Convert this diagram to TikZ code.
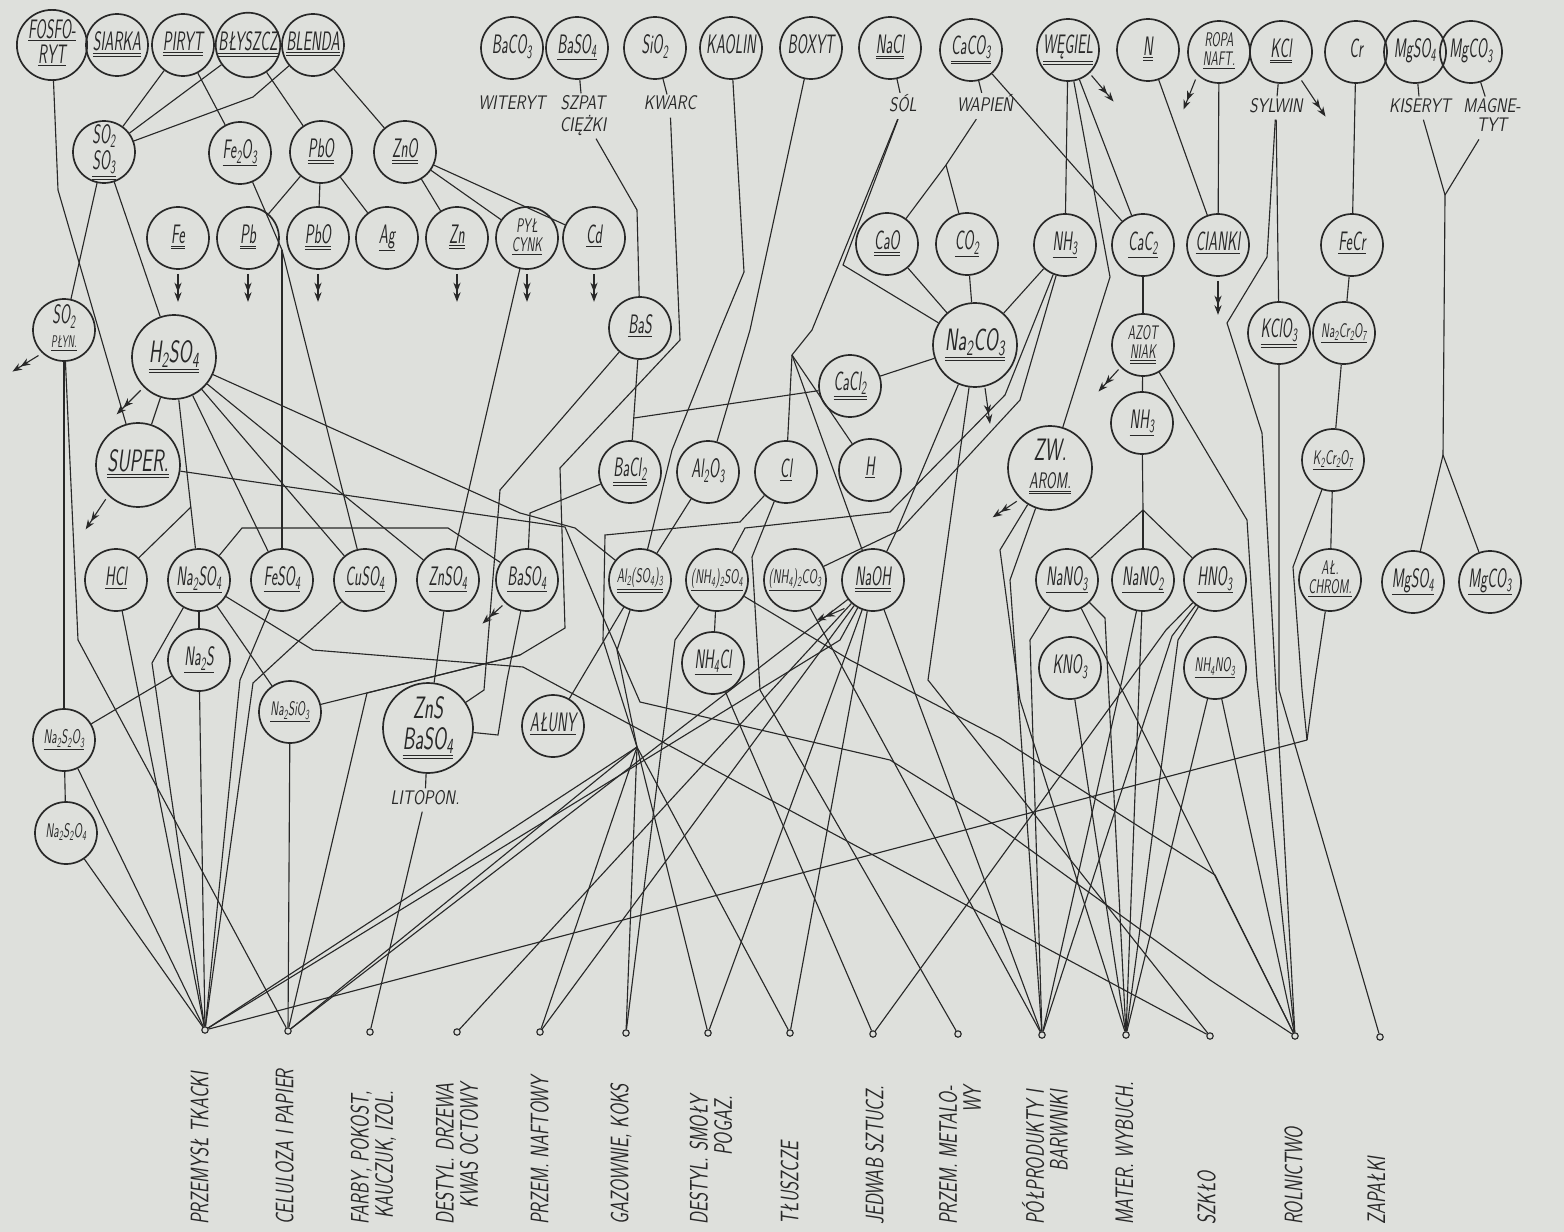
\documentclass[tikz,border=0pt]{standalone}
\usepackage{graphicx}
\usetikzlibrary{arrows.meta}

\definecolor{paper}{RGB}{222,224,220}
\definecolor{ink}{RGB}{40,40,40}

\newcommand{\sbs}[1]{\textsubscript{#1}}
\newcommand{\lun}[1]{\underline{#1}}
\newcommand{\dun}[1]{\underline{\underline{#1}}}
\newcommand{\chemfont}{\fontsize{19}{17}\selectfont\sffamily\slshape}
\newcommand{\labfont}{\fontsize{14}{14}\selectfont\sffamily\slshape}
\newcommand{\indfont}{\fontsize{18}{17}\selectfont\sffamily\slshape}
\newcommand{\ch}[1]{\scalebox{.55}[1]{\begin{tabular}{@{}c@{}}#1\end{tabular}}}
\newcommand{\chs}[1]{\scalebox{.58}[1]{\fontsize{14}{13}\selectfont\begin{tabular}{@{}c@{}}#1\end{tabular}}}
\newcommand{\chb}[1]{\scalebox{.62}[1]{\fontsize{22}{20}\selectfont\begin{tabular}{@{}c@{}}#1\end{tabular}}}
\newcommand{\lb}[1]{\scalebox{.78}[1]{\begin{tabular}{@{}c@{}}#1\end{tabular}}}
\newcommand{\indl}[1]{\scalebox{.7}[1]{\begin{tabular}{@{}r@{}}#1\end{tabular}}}
\newcommand{\indm}[1]{\scalebox{.7}[1]{\fontsize{18}{15}\selectfont\begin{tabular}{@{}r@{}}#1\end{tabular}}}

\begin{document}
\begin{tikzpicture}
  [x=0.25mm,y=-0.25mm,
   chem/.style={circle,draw=ink,line width=1.2pt,minimum size=15.5mm,inner sep=0pt,text=ink,font=\chemfont},
   big/.style={chem,minimum size=21mm},
   sink/.style={circle,draw=ink,line width=0.8pt,minimum size=1.6mm,inner sep=0pt},
   lab/.style={inner sep=1pt,text=ink,font=\labfont},
   ind/.style={rotate=90,anchor=west,inner sep=0pt,text=ink,font=\indfont},
   link/.style={draw=ink,line width=0.8pt},
   dbl/.style={draw=ink,line width=0.8pt,-{Stealth[length=2.4mm,width=1.8mm]Stealth[length=2.4mm,width=1.8mm]}}]

  \fill[paper] (0,0) rectangle (1564,1232);
  \useasboundingbox (0,0) rectangle (1564,1232);

  % raw materials
  \node[chem] (fosforyt) at (52,45) {\ch{\lun{FOSFO-}\\\lun{RYT}}};
  \node[chem] (siarka) at (117,45) {\ch{\dun{SIARKA}}};
  \node[chem] (piryt) at (183,45) {\ch{\dun{PIRYT}}};
  \node[chem] (blyszcz) at (248,45) {\ch{\dun{BŁYSZCZ}}};
  \node[chem] (blenda) at (313,45) {\ch{\dun{BLENDA}}};
  \node[chem] (baco) at (512,48) {\ch{BaCO\sbs{3}}};
  \node[chem] (basoa) at (577,48) {\ch{\lun{BaSO\sbs{4}}}};
  \node[chem] (sio) at (655,48) {\ch{SiO\sbs{2}}};
  \node[chem] (kaolin) at (731,48) {\ch{KAOLIN}};
  \node[chem] (boxyt) at (811,48) {\ch{BOXYT}};
  \node[chem] (nacl) at (890,48) {\ch{\dun{NaCl}}};
  \node[chem] (caco) at (971,50) {\ch{\dun{CaCO\sbs{3}}}};
  \node[chem] (wegiel) at (1068,50) {\ch{\dun{WĘGIEL}}};
  \node[chem] (nn) at (1148,50) {\ch{\dun{N}}};
  \node[chem] (ropa) at (1219,52) {\chs{ROPA\\\lun{NAFT.}}};
  \node[chem] (kcl) at (1281,52) {\ch{\dun{KCl}}};
  \node[chem] (cr) at (1356,52) {\ch{Cr}};
  \node[chem] (mgsoa) at (1415,52) {\ch{MgSO\sbs{4}}};
  \node[chem] (mgcoa) at (1471,52) {\ch{MgCO\sbs{3}}};

  % mineral names
  \node[lab] (witeryt) at (512,106) {\lb{WITERYT}};
  \node[lab] (szpat) at (583,116) {\lb{SZPAT\\CIĘŻKI}};
  \node[lab] (kwarc) at (670,106) {\lb{KWARC}};
  \node[lab] (sol) at (903,106) {\lb{SÓL}};
  \node[lab] (wapien) at (985,106) {\lb{WAPIEŃ}};
  \node[lab] (sylwin) at (1276,108) {\lb{SYLWIN}};
  \node[lab] (kiseryt) at (1420,108) {\lb{KISERYT}};
  \node[lab] (magnetyt) at (1492,118) {\lb{MAGNE-\\TYT}};

  % intermediate products
  \node[chem] (sox) at (104,152) {\ch{SO\sbs{2}\\\dun{SO\sbs{3}}}};
  \node[chem] (feo) at (240,153) {\ch{\lun{Fe\sbs{2}O\sbs{3}}}};
  \node[chem] (pboa) at (321,152) {\ch{\dun{PbO}}};
  \node[chem] (zno) at (405,152) {\ch{\dun{ZnO}}};
  \node[chem] (fe) at (178,238) {\ch{\dun{Fe}}};
  \node[chem] (pb) at (248,238) {\ch{\dun{Pb}}};
  \node[chem] (pbob) at (318,238) {\ch{\dun{PbO}}};
  \node[chem] (ag) at (387,238) {\ch{\lun{Ag}}};
  \node[chem] (zn) at (457,238) {\ch{\dun{Zn}}};
  \node[chem] (pyl) at (527,238) {\chs{PYŁ\\\lun{CYNK}}};
  \node[chem] (cd) at (594,238) {\ch{\lun{Cd}}};
  \node[chem] (cao) at (887,244) {\ch{\dun{CaO}}};
  \node[chem] (coo) at (967,244) {\ch{\lun{CO\sbs{2}}}};
  \node[chem] (nha) at (1065,245) {\ch{\lun{NH\sbs{3}}}};
  \node[chem] (cac) at (1143,245) {\ch{\lun{CaC\sbs{2}}}};
  \node[chem] (cianki) at (1218,245) {\ch{\lun{CIANKI}}};
  \node[chem] (fecr) at (1352,245) {\ch{\lun{FeCr}}};

  \node[chem] (soplyn) at (64,330) {\ch{SO\sbs{2}\\{\fontsize{12}{12}\selectfont\lun{PŁYN.}}}};
  \node[big] (hso) at (174,357) {\chb{\dun{H\sbs{2}SO\sbs{4}}}};
  \node[chem] (bas) at (640,328) {\ch{\lun{BaS}}};
  \node[big] (naco) at (975,345) {\chb{\dun{Na\sbs{2}CO\sbs{3}}}};
  \node[chem] (azotniak) at (1143,345) {\chs{AZOT\\\dun{NIAK}}};
  \node[chem] (kclo) at (1279,333) {\ch{\dun{KClO\sbs{3}}}};
  \node[chem] (nacr) at (1344,333) {\chs{\lun{Na\sbs{2}Cr\sbs{2}O\sbs{7}}}};
  \node[chem] (cacl) at (850,386) {\ch{\dun{CaCl\sbs{2}}}};
  \node[chem] (nhb) at (1142,423) {\ch{\lun{NH\sbs{3}}}};
  \node[big] (super) at (138,465) {\chb{\dun{SUPER.}}};
  \node[chem] (bacl) at (630,472) {\ch{\dun{BaCl\sbs{2}}}};
  \node[chem] (alo) at (708,472) {\ch{Al\sbs{2}O\sbs{3}}};
  \node[chem] (cl) at (786,472) {\ch{\lun{Cl}}};
  \node[chem] (hh) at (870,470) {\ch{\lun{H}}};
  \node[big] (zwarom) at (1050,468) {\chb{ZW.\\{\fontsize{16}{16}\selectfont\dun{AROM.}}}};
  \node[chem] (kcr) at (1333,460) {\chs{\lun{K\sbs{2}Cr\sbs{2}O\sbs{7}}}};

  \node[chem] (hcl) at (116,580) {\ch{\lun{HCl}}};
  \node[chem] (naso) at (199,580) {\ch{\lun{Na\sbs{2}SO\sbs{4}}}};
  \node[chem] (feso) at (282,580) {\ch{\lun{FeSO\sbs{4}}}};
  \node[chem] (cuso) at (365,580) {\ch{\lun{CuSO\sbs{4}}}};
  \node[chem] (znso) at (448,580) {\ch{\lun{ZnSO\sbs{4}}}};
  \node[chem] (basob) at (527,580) {\ch{\lun{BaSO\sbs{4}}}};
  \node[chem] (also) at (640,580) {\chs{\dun{Al\sbs{2}(SO\sbs{4})\sbs{3}}}};
  \node[chem] (nhso) at (717,580) {\chs{\lun{(NH\sbs{4})\sbs{2}SO\sbs{4}}}};
  \node[chem] (nhco) at (795,580) {\chs{\lun{(NH\sbs{4})\sbs{2}CO\sbs{3}}}};
  \node[chem] (naoh) at (873,580) {\ch{\dun{NaOH}}};
  \node[chem] (nanoa) at (1067,580) {\ch{\lun{NaNO\sbs{3}}}};
  \node[chem] (nanob) at (1143,580) {\ch{\lun{NaNO\sbs{2}}}};
  \node[chem] (hno) at (1215,580) {\ch{\lun{HNO\sbs{3}}}};
  \node[chem] (alchrom) at (1330,580) {\chs{AŁ.\\\lun{CHROM.}}};
  \node[chem] (mgsob) at (1413,582) {\ch{\lun{MgSO\sbs{4}}}};
  \node[chem] (mgcob) at (1490,582) {\ch{\lun{MgCO\sbs{3}}}};

  \node[chem] (nas) at (199,660) {\ch{\lun{Na\sbs{2}S}}};
  \node[chem] (nhcl) at (713,663) {\ch{\lun{NH\sbs{4}Cl}}};
  \node[chem] (kno) at (1070,668) {\ch{KNO\sbs{3}}};
  \node[chem] (nhno) at (1215,668) {\chs{\lun{NH\sbs{4}NO\sbs{3}}}};
  \node[chem] (nasio) at (290,712) {\chs{\lun{Na\sbs{2}SiO\sbs{3}}}};
  \node[big,minimum size=22.5mm] (zns) at (428,728) {\chb{ZnS\\\dun{BaSO\sbs{4}}}};
  \node[chem] (aluny) at (553,726) {\ch{\lun{AŁUNY}}};
  \node[chem] (nasto) at (64,740) {\chs{\lun{Na\sbs{2}S\sbs{2}O\sbs{3}}}};
  \node[chem] (nastt) at (66,833) {\chs{Na\sbs{2}S\sbs{2}O\sbs{4}}};
  \node[lab] (litopon) at (425,800) {\lb{LITOPON.}};

  % junctions
  \coordinate (jfe) at (282,250);
  \coordinate (jca) at (946,165);
  \coordinate (je) at (792,355);
  \coordinate (jmg) at (1445,195);
  \coordinate (jmgb) at (1443,455);
  \coordinate (jno) at (1143,510);
  \coordinate (jcr) at (1307,740);
  \coordinate (hub) at (637,747);
  \coordinate (jhcl) at (191,507);
  \coordinate (jbacl) at (634,418);
  \coordinate (jsio) at (520,655);

  % industries
  \foreach \nm/\xs/\ys in {tk/205/1030, cel/288/1031, farby/370/1032, drzewa/457/1032,
      naft/540/1032, gaz/626/1033, smoly/708/1033, tlu/790/1033, jedwab/873/1034,
      metal/958/1034, polp/1042/1035, mater/1126/1035, szklo/1210/1036,
      roln/1295/1036, zap/1380/1037}
    \node[sink] (\nm) at (\xs,\ys) {};

  \node[ind] (tk-t) at (203,1225) {\indl{PRZEMYSŁ TKACKI}};
  \node[ind] (cel-t) at (288,1225) {\indl{CELULOZA I PAPIER}};
  \node[ind] (farby-t) at (375,1225) {\indm{FARBY, POKOST,\\KAUCZUK, IZOL.}};
  \node[ind] (drzewa-t) at (460,1225) {\indm{DESTYL. DRZEWA\\KWAS OCTOWY}};
  \node[ind] (naft-t) at (543,1225) {\indl{PRZEM. NAFTOWY}};
  \node[ind] (gaz-t) at (623,1225) {\indl{GAZOWNIE, KOKS}};
  \node[ind] (smoly-t) at (714,1225) {\indm{DESTYL. SMOŁY\\POGAZ.}};
  \node[ind] (tlu-t) at (793,1225) {\indl{TŁUSZCZE}};
  \node[ind] (jedwab-t) at (878,1225) {\indl{JEDWAB SZTUCZ.}};
  \node[ind] (metal-t) at (963,1225) {\indm{PRZEM. METALO-\\WY}};
  \node[ind] (polp-t) at (1048,1225) {\indm{PÓŁPRODUKTY I\\BARWNIKI}};
  \node[ind] (mater-t) at (1128,1225) {\indl{MATER. WYBUCH.}};
  \node[ind] (szklo-t) at (1210,1225) {\indl{SZKŁO}};
  \node[ind] (roln-t) at (1297,1225) {\indl{ROLNICTWO}};
  \node[ind] (zap-t) at (1380,1225) {\indl{ZAPAŁKI}};

  % straight connectors
  \foreach \from/\to in {piryt/sox, blyszcz/sox, piryt/feo, blyszcz/pboa, blenda/zno,
      feo/jfe, jfe/feso, jfe/cuso, pboa/pb, pboa/pbob, pboa/ag, zno/zn, zno/pyl, zno/cd,
      pyl/znso, sox/soplyn, sox/hso, hso/super, hso/naso, hso/feso, hso/cuso, hso/znso,
      hcl/jhcl, naso/nas, naso/nasio, nas/nasto, soplyn/nasto, nasto/nastt,
      nasto/tk, nastt/tk, hcl/tk, nas/tk, znso/zns, nasio/cel, bas/bacl, cacl/jbacl,
      alo/also, also/aluny, wapien/jca, jca/cao, jca/coo, caco/cac, cao/naco, coo/naco,
      nha/naco, wegiel/nha, wegiel/cac, je/cl, je/hh, je/naoh, naco/cacl, nhso/nhcl,
      nn/cianki, ropa/cianki, cac/azotniak, azotniak/nhb, nhb/jno, jno/nanob, jno/nanoa,
      jno/hno, sylwin/kclo, cr/fecr, fecr/nacr, nacr/kcr, kcr/alchrom, jcr/tk,
      kiseryt/jmg, magnetyt/jmg, jmg/jmgb, jmgb/mgsob, jmgb/mgcob,
      hub/tk, hub/cel, hub/naft, hub/gaz, hub/smoly, hub/tlu,
      naoh/cel, naoh/drzewa, naoh/naft, naoh/smoly, naoh/tlu, naoh/polp, nhco/polp,
      nhno/mater, nhno/roln, kno/mater, nanob/mater, nanoa/roln, nhcl/jedwab,
      litopon/farby, zns/litopon,
      basoa/szpat, sio/kwarc, nacl/sol, caco/wapien, kcl/sylwin, mgsoa/kiseryt, mgcoa/magnetyt}
    \draw[link] (\from) -- (\to);

  % bent connectors
  \draw[link] (blenda) -- (253,97) -- (sox);
  \draw[link] (fosforyt) -- (58,190) -- (super);
  \draw[link] (hso) -- (520,513) -- (575,528) -- (also);
  \draw[link] (super) -- (565,527) -- (600,610) -- (640,702) -- (890,760) -- (1003,830) -- (1210,980) -- (roln);
  \draw[link] (naso) -- (242,528) -- (448,528) -- (basob);
  \draw[link] (naso) -- (313,650) -- (523,667) -- (szklo);
  \draw[link] (naso) -- (152,663) -- (tk);
  \draw[link] (soplyn) -- (78,640) -- (cel);
  \draw[link] (feso) -- (240,680) -- (tk);
  \draw[link] (cuso) -- (253,683) -- (tk);
  \draw[link] (szpat) -- (637,210) -- (bas);
  \draw[link] (bacl) -- (530,513) -- (basob);
  \draw[link] (bas) -- (500,490) -- (484,690) -- (zns);
  \draw[link] (basob) -- (507,680) -- (498,735) -- (zns);
  \draw[link] (kwarc) -- (680,340) -- (560,468) -- (565,628) -- (jsio) -- (nasio);
  \draw[link] (jsio) -- (367,693) -- (cel);
  \draw[link] (kaolin) -- (744,272) -- (720,330) -- (672,450) -- (also);
  \draw[link] (boxyt) -- (750,330) -- (alo);
  \draw[link] (also) -- (617,650) -- (hub);
  \draw[link] (cl) -- (740,522) -- (605,535) -- (603,640) -- (hub);
  \draw[link] (cl) -- (752,557) -- (760,690) -- (metal);
  \draw[link] (wegiel) -- (1110,277) -- (zwarom);
  \draw[link] (sol) -- (843,265) -- (naco);
  \draw[link] (sol) -- (812,330) -- (je);
  \draw[link] (naco) -- (897,530) -- (naoh);
  \draw[link] (naco) -- (928,680) -- (szklo);
  \draw[link] (nha) -- (1005,395) -- (890,512) -- (745,528) -- (nhso);
  \draw[link] (nha) -- (1020,400) -- (900,530) -- (nhco);
  \draw[link] (nhso) -- (850,660) -- (1000,738) -- (1215,875) -- (roln);
  \draw[link] (nhso) -- (675,640) -- (gaz);
  \draw[link] (naoh) -- (840,640) -- (tk);
  \draw[link] (azotniak) -- (1247,520) -- (1257,680) -- (roln);
  \draw[link] (sylwin) -- (1267,257) -- (1227,323) -- (1262,433) -- (roln);
  \draw[link] (kclo) -- (1279,690) -- (zap);
  \draw[link] (kcr) -- (1293,567) -- (1302,690) -- (jcr);
  \draw[link] (alchrom) -- (1315,680) -- (jcr);
  \draw[link] (zwarom) -- (1010,580) -- (polp);
  \draw[link] (zwarom) -- (1000,550) -- (1020,700) -- (mater);
  \draw[link] (nanob) -- (1122,680) -- (polp);
  \draw[link] (nanoa) -- (1105,618) -- (mater);
  \draw[link] (nanoa) -- (1030,640) -- (polp);
  \draw[link] (hno) -- (1172,636) -- (polp);
  \draw[link] (hno) -- (1178,640) -- (mater);
  \draw[link] (hno) -- (1166,630) -- (jedwab);

  % outgoing arrows
  \foreach \nd in {fe,pb,pbob,zn,pyl,cd}
    \draw[dbl] (\nd.south) ++(0,4) -- ++(0,28);
  \draw[dbl] (soplyn.south west) ++(-3,3) -- ++(-26,16);
  \draw[dbl] (hso.south west) ++(-3,3) -- ++(-24,24);
  \draw[dbl] (super.south west) ++(-2,4) -- ++(-20,30);
  \draw[dbl] (wegiel.south east) ++(1,3) -- ++(22,26);
  \draw[dbl] (ropa.south west) ++(-1,5) -- ++(-12,30);
  \draw[dbl] (kcl.south east) ++(-2,6) -- ++(24,36);
  \draw[dbl] (cianki.south) ++(0,4) -- ++(0,34);
  \draw[dbl] (naco.south) ++(10,0) -- ++(5,36);
  \draw[dbl] (azotniak.south west) ++(-2,2) -- ++(-20,22);
  \draw[dbl] (zwarom.south west) ++(-3,3) -- ++(-24,16);
  \draw[dbl] (naoh.south west) ++(-6,6) -- ++(-28,12);
  \draw[dbl] (basob.south west) ++(-2,3) -- ++(-20,18);
\end{tikzpicture}
\end{document}
